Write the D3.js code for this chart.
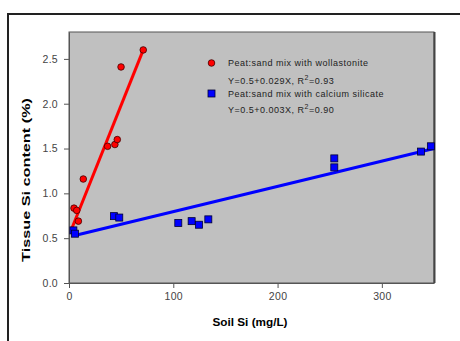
<!DOCTYPE html>
<html>
<head>
<meta charset="utf-8">
<script src="https://cdn.jsdelivr.net/npm/d3@7"></script>
<style>
  body { margin: 0; background: #fff; }
  text { font-family: "Liberation Sans", Arial, sans-serif; }
</style>
</head>
<body>
<script>
// Peat:sand mix with wollastonite
var wollX = [4.8, 7.4, 9, 13.7, 37, 44, 46.3, 49.9, 71.2];
var wollY = [0.835, 0.81, 0.69, 1.16, 1.525, 1.545, 1.60, 2.41, 2.60];
// Peat:sand mix with calcium silicate
var casiX = [4.2, 5.7, 43.1, 48.2, 104.8, 117.6, 124.6, 133.6, 254.4, 254.4, 337.5, 347];
var casiY = [0.587, 0.55, 0.746, 0.73, 0.67, 0.69, 0.65, 0.71, 1.39, 1.29, 1.466, 1.525];
// fitted lines, start and end
var wollLineX = [2.4, 71.2];
var wollLineY = [0.60, 2.60];
var casiLineX = [5.5, 350];
var casiLineY = [0.53, 1.50];

var xTicks = [0, 100, 200, 300];
var yTicks = [0, 0.5, 1.0, 1.5, 2.0, 2.5];

var svg = d3.select('body').append('svg')
    .attr('width', 460)
    .attr('height', 341);

// outer frame
svg.append('rect')
    .attr('x', 8).attr('y', 14)
    .attr('width', 480).attr('height', 360)
    .style('fill', 'none')
    .style('stroke', '#222')
    .style('stroke-width', 2);

var x = d3.scaleLinear().domain([0, 350]).range([69, 434]);
var y = d3.scaleLinear().domain([0, 2.8]).range([283, 32]);

// plot area
svg.append('rect')
    .attr('x', x(0)).attr('y', y(2.8))
    .attr('width', x(350) - x(0)).attr('height', y(0) - y(2.8))
    .style('fill', '#c0c0c0')
    .style('stroke', '#555')
    .style('stroke-width', 1);
svg.append('line')
    .attr('x1', x(350) + 0.5).attr('x2', x(350) + 0.5)
    .attr('y1', y(2.8)).attr('y2', y(0))
    .style('stroke', '#444').style('stroke-width', 2);

var xAxis = svg.append('g')
    .attr('transform', 'translate(0,' + y(0) + ')')
    .call(d3.axisBottom(x).tickValues(xTicks).tickSize(5).tickPadding(5).tickSizeOuter(0));
var yAxis = svg.append('g')
    .attr('transform', 'translate(' + x(0) + ',0)')
    .call(d3.axisLeft(y).tickValues(yTicks).tickFormat(d3.format('.1f')).tickSize(5).tickPadding(6).tickSizeOuter(0));

[xAxis, yAxis].forEach(function(a){
    a.select('.domain').style('stroke', '#555');
    a.selectAll('.tick line').style('stroke', '#555');
    a.selectAll('.tick text')
        .style('font-family', '"Liberation Sans", Arial, sans-serif')
        .style('font-size', '10.5px')
        .style('letter-spacing', '0.3px')
        .style('fill', '#444');
});

// axis titles
svg.append('text')
    .attr('transform', 'translate(30,180) rotate(-90)')
    .attr('text-anchor', 'middle')
    .attr('textLength', 164)
    .attr('lengthAdjust', 'spacingAndGlyphs')
    .style('font-size', '11px')
    .style('font-weight', 'bold')
    .text('Tissue Si content (%)');

svg.append('text')
    .attr('x', 250).attr('y', 326)
    .attr('text-anchor', 'middle')
    .attr('textLength', 75)
    .attr('lengthAdjust', 'spacingAndGlyphs')
    .style('font-size', '11px')
    .style('font-weight', 'bold')
    .text('Soil Si (mg/L)');

// trend lines
var line = d3.line().x(function(d){ return x(d[0]); }).y(function(d){ return y(d[1]); });
svg.append('path')
    .datum(d3.zip(wollLineX, wollLineY))
    .attr('d', line)
    .style('fill', 'none').style('stroke', '#ff0000').style('stroke-width', 3);
svg.append('path')
    .datum(d3.zip(casiLineX, casiLineY))
    .attr('d', line)
    .style('fill', 'none').style('stroke', '#0000ff').style('stroke-width', 3);

// points
svg.selectAll('.woll')
    .data(d3.zip(wollX, wollY))
    .enter().append('circle')
    .attr('class', 'woll')
    .attr('cx', function(d){ return x(d[0]); })
    .attr('cy', function(d){ return y(d[1]); })
    .attr('r', 3.3)
    .style('fill', '#ff0000')
    .style('stroke', '#400000')
    .style('stroke-width', 0.8);

svg.selectAll('.casi')
    .data(d3.zip(casiX, casiY))
    .enter().append('rect')
    .attr('class', 'casi')
    .attr('x', function(d){ return x(d[0]) - 3.5; })
    .attr('y', function(d){ return y(d[1]) - 3.5; })
    .attr('width', 7).attr('height', 7)
    .style('fill', '#0000ff')
    .style('stroke', '#000033')
    .style('stroke-width', 0.8);

// legend
var legend = svg.append('g')
    .style('font-size', '9px')
    .style('letter-spacing', '0.5px')
    .style('fill', '#222');
legend.append('circle')
    .attr('cx', 211.5).attr('cy', 63).attr('r', 3.3)
    .style('fill', '#ff0000').style('stroke', '#400000').style('stroke-width', 0.8);
legend.append('rect')
    .attr('x', 208).attr('y', 90).attr('width', 7).attr('height', 7)
    .style('fill', '#0000ff').style('stroke', '#000033').style('stroke-width', 0.8);

var legendRows = [
    ['Peat:sand mix with wollastonite', 66],
    ['Peat:sand mix with calcium silicate', 97]
];
legendRows.forEach(function(r){
    legend.append('text').attr('x', 228).attr('y', r[1]).text(r[0]);
});
var eqRows = [
    ['Y=0.5+0.029X, R', '=0.93', 84],
    ['Y=0.5+0.003X, R', '=0.90', 113]
];
eqRows.forEach(function(r){
    var t = legend.append('text').attr('x', 228).attr('y', r[2]);
    t.append('tspan').text(r[0]);
    t.append('tspan').attr('dy', -4).style('font-size', '7px').text('2');
    t.append('tspan').attr('dy', 4).text(r[1]);
});
</script>
</body>
</html>
